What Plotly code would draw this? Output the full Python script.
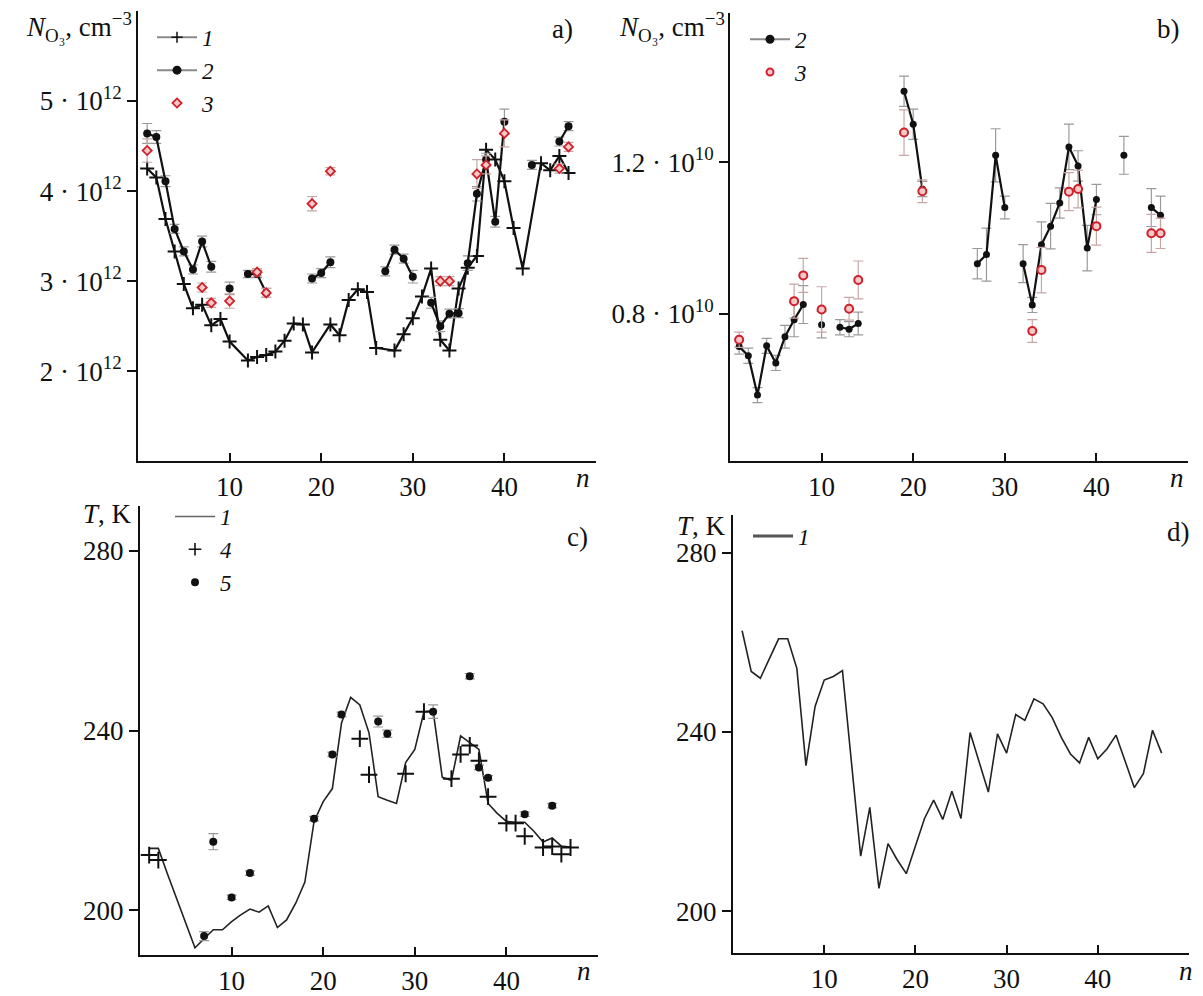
import plotly.graph_objects as go

W, H = 1203, 996
FONT = "Liberation Serif"

# ---------------- data ----------------
n_all = list(range(1, 48))

# panel a: N_O3 in units of 1e12 cm^-3
a1_n = [1, 2, 3, 4, 5, 6, 7, 8, 9, 10, 12, 13, 14, 15, 16, 17, 18, 19, 21, 22, 23, 24, 25, 26,
        28, 29, 30, 31, 32, 33, 34, 35, 36, 37, 38, 39, 40, 41, 42, 44, 45, 46, 47]
a1_v = [4.25, 4.15, 3.69, 3.33, 2.97, 2.70, 2.74, 2.51, 2.58, 2.33,
        2.12, 2.16, 2.18, 2.22, 2.34, 2.53, 2.52, 2.21,
        2.52, 2.40, 2.79, 2.91, 2.88, 2.26,
        2.23, 2.41, 2.59, 2.83, 3.14, 2.35, 2.23, 2.92, 3.15, 3.28, 4.46, 4.35, 4.11, 3.59, 3.14,
        4.31, 4.23, 4.39, 4.20]

a2_v = [4.64, 4.60, 4.11, 3.58, 3.33, 3.13, 3.44, 3.16, None, 2.92,
        None, 3.08, 3.08, 2.87, None, None, None, None, 3.03, 3.09,
        3.21, None, None, None, None, None, 3.11, 3.35, 3.25, 3.05,
        None, 2.76, 2.50, 2.64, 2.645, 3.20, 3.97, 4.35, 3.66, 4.77,
        None, None, 4.29, None, None, 4.55, 4.72]
a2_e = [0.11, 0.07, 0.06, 0.05, 0.05, 0.05, 0.06, 0.06, 0, 0.07,
        0, 0.04, 0.04, 0.05, 0, 0, 0, 0, 0.05, 0.05,
        0.06, 0, 0, 0, 0, 0, 0.05, 0.05, 0.05, 0.07,
        0, 0.06, 0.06, 0.05, 0.05, 0.08, 0.08, 0.07, 0.06, 0.14,
        0, 0, 0.05, 0, 0, 0.05, 0.05]

a3_n = [1, 7, 8, 10, 13, 14, 19, 21, 33, 34, 37, 38, 40, 46, 47]
a3_v = [4.45, 2.93, 2.76, 2.78, 3.10, 2.87, 3.86, 4.22, 3.00, 3.00, 4.19, 4.29, 4.64, 4.25, 4.49]
a3_e = [0.13, 0.05, 0.05, 0.08, 0.04, 0.05, 0.08, 0.04, 0.05, 0.05, 0.16, 0.10, 0.15, 0.05, 0.05]

# panel b: N_O3 in units of 1e10 cm^-3
b2_v = [0.713, 0.689, 0.585, 0.715, 0.670, 0.739, 0.784, 0.824, None, 0.771,
        None, 0.764, 0.759, 0.774, None, None, None, None, 1.387, 1.300,
        1.129, None, None, None, None, None, 0.932, 0.956, 1.218, 1.080,
        None, 0.932, 0.823, 0.982, 1.031, 1.092, 1.240, 1.190, 0.973, 1.101,
        None, None, 1.218, None, None, 1.080, 1.060]
b2_e = [0.02, 0.02, 0.02, 0.02, 0.02, 0.03, 0.045, 0.05, 0, 0.035,
        0, 0.02, 0.02, 0.03, 0, 0, 0, 0, 0.04, 0.04,
        0.02, 0, 0, 0, 0, 0, 0.04, 0.07, 0.07, 0.03,
        0, 0.05, 0.02, 0.06, 0.06, 0.04, 0.06, 0.04, 0.06, 0.04,
        0, 0, 0.05, 0, 0, 0.05, 0.05]

b3_n = [1, 7, 8, 10, 13, 14, 19, 21, 33, 34, 37, 38, 40, 46, 47]
b3_v = [0.731, 0.833, 0.901, 0.811, 0.813, 0.889, 1.278, 1.123, 0.754, 0.915, 1.122, 1.129, 1.031, 1.012, 1.012]
b3_e = [0.02, 0.045, 0.045, 0.06, 0.03, 0.05, 0.06, 0.03, 0.03, 0.06, 0.05, 0.05, 0.05, 0.05, 0.04]

# panel c: temperature, K
c1_v = [213.8, 213.8, 208.1, 202.7, 197.2, 191.7, 193.7, 195.7, 195.7, 197.5,
        199.0, 200.3, 199.6, 201.0, 196.2, 197.9, 201.6, 206.3, 219.8, 224.2,
        227.1, 241.7, 247.4, 245.7, 239.5, 225.3, 224.5, 223.8, 232.9, 235.8,
        244.2, 244.4, 229.6, 228.9, 238.8, 237.3, 235.8, 223.8, 221.6, 219.8,
        219.6, 219.6, 217.6, 215.2, 216.1, 214.3, 214.1]
c4_n = [1, 2, 24, 25, 29, 31, 34, 35, 36, 37, 38, 40, 41, 42, 44, 45, 46, 47]
c4_v = [212.3, 211.2, 238.2, 230.2, 230.4, 244.2, 229.3, 234.7, 236.7, 233.3, 225.3,
        219.4, 219.4, 216.5, 214.0, 214.2, 212.5, 214.0]
c5_n = [7, 8, 10, 12, 19, 21, 22, 26, 27, 32, 36, 37, 38, 42, 45]
c5_v = [194.3, 215.3, 202.9, 208.3, 220.4, 234.7, 243.6, 242.0, 239.3, 244.2, 252.1, 231.8, 229.5, 221.4, 223.3]
c5_e = [1.0, 1.8, 0.5, 0.5, 0.5, 0.5, 0.5, 1.2, 0.8, 1.5, 0.6, 0.5, 0.5, 0.5, 0.5]

# panel d: temperature, K
d1_v = [262.6, 253.5, 252.0, 256.4, 260.8, 260.8, 254.2, 232.5, 245.7, 251.6,
        252.4, 253.7, 232.9, 212.3, 223.2, 205.1, 215.1, 211.5, 208.4, 214.6,
        220.7, 224.8, 220.5, 226.8, 220.7, 239.9, 233.2, 226.6, 239.6, 235.3,
        243.9, 242.6, 247.4, 246.3, 243.2, 238.8, 235.1, 233.1, 238.8, 234.0,
        236.2, 239.3, 233.5, 227.6, 230.7, 240.4, 235.3]

x_ticks = [10, 20, 30, 40]
a_ticks = [2, 3, 4, 5]
a_text = ["2 · 10<sup>12</sup>", "3 · 10<sup>12</sup>", "4 · 10<sup>12</sup>", "5 · 10<sup>12</sup>"]
b_ticks = [0.8, 1.2]
b_text = ["0.8 · 10<sup>10</sup>", "1.2 · 10<sup>10</sup>"]
t_ticks = [200, 240, 280]

# ---------------- layout helpers ----------------
def fx(px):
    return px / W

def fy(py):
    return 1 - py / H

BLACK = "#111111"
ERR = "#9a9a9a"
RED = "#d0202a"
PINK = "#f6c9c9"

fig = go.Figure()

# ---- panel a ----
fig.add_trace(go.Scatter(x=a1_n, y=a1_v, mode="lines+markers", xaxis="x", yaxis="y",
                         line=dict(color=BLACK, width=2.2),
                         marker=dict(symbol="cross-thin", size=10, line=dict(color=BLACK, width=2)),
                         showlegend=False))
fig.add_trace(go.Scatter(x=n_all, y=a2_v, mode="lines+markers", xaxis="x", yaxis="y",
                         line=dict(color=BLACK, width=2.2), connectgaps=False,
                         marker=dict(symbol="circle", size=8, color=BLACK),
                         error_y=dict(type="data", array=a2_e, color=ERR, thickness=1.2, width=5),
                         showlegend=False))
fig.add_trace(go.Scatter(x=a3_n, y=a3_v, mode="markers", xaxis="x", yaxis="y",
                         marker=dict(symbol="diamond", size=7, color=PINK, line=dict(color=RED, width=1.8)),
                         error_y=dict(type="data", array=a3_e, color="#c8a6a6", thickness=1.2, width=5),
                         showlegend=False))
# legend entries a
fig.add_trace(go.Scatter(x=[None], y=[None], mode="lines+markers", xaxis="x", yaxis="y", name="<i>1</i>",
                         line=dict(color="#8a8a8a", width=2),
                         marker=dict(symbol="cross-thin", size=8, line=dict(color=BLACK, width=1.5)),
                         legend="legend"))
fig.add_trace(go.Scatter(x=[None], y=[None], mode="lines+markers", xaxis="x", yaxis="y", name="<i>2</i>",
                         line=dict(color="#8a8a8a", width=2),
                         marker=dict(symbol="circle", size=9, color=BLACK), legend="legend"))
fig.add_trace(go.Scatter(x=[None], y=[None], mode="markers", xaxis="x", yaxis="y", name="<i>3</i>",
                         marker=dict(symbol="diamond", size=7, color=PINK, line=dict(color=RED, width=1.8)),
                         legend="legend"))

# ---- panel b ----
fig.add_trace(go.Scatter(x=n_all, y=b2_v, mode="lines+markers", xaxis="x2", yaxis="y2",
                         line=dict(color=BLACK, width=2.2), connectgaps=False,
                         marker=dict(symbol="circle", size=7, color=BLACK),
                         error_y=dict(type="data", array=b2_e, color=ERR, thickness=1.2, width=5),
                         showlegend=False))
fig.add_trace(go.Scatter(x=b3_n, y=b3_v, mode="markers", xaxis="x2", yaxis="y2",
                         marker=dict(symbol="circle", size=8, color=PINK, line=dict(color=RED, width=2)),
                         error_y=dict(type="data", array=b3_e, color="#c8a6a6", thickness=1.2, width=5),
                         showlegend=False))
fig.add_trace(go.Scatter(x=[None], y=[None], mode="lines+markers", xaxis="x2", yaxis="y2", name="<i>2</i>",
                         line=dict(color="#8a8a8a", width=2),
                         marker=dict(symbol="circle", size=9, color=BLACK), legend="legend2"))
fig.add_trace(go.Scatter(x=[None], y=[None], mode="markers", xaxis="x2", yaxis="y2", name="<i>3</i>",
                         marker=dict(symbol="circle", size=7, color=PINK, line=dict(color=RED, width=2)),
                         legend="legend2"))

# ---- panel c ----
fig.add_trace(go.Scatter(x=n_all, y=c1_v, mode="lines", xaxis="x3", yaxis="y3",
                         line=dict(color="#222222", width=1.6), showlegend=False))
fig.add_trace(go.Scatter(x=c4_n, y=c4_v, mode="markers", xaxis="x3", yaxis="y3",
                         marker=dict(symbol="cross-thin", size=12, line=dict(color=BLACK, width=2)),
                         showlegend=False))
fig.add_trace(go.Scatter(x=c5_n, y=c5_v, mode="markers", xaxis="x3", yaxis="y3",
                         marker=dict(symbol="circle", size=8, color=BLACK),
                         error_y=dict(type="data", array=c5_e, color=ERR, thickness=1.2, width=5),
                         showlegend=False))
fig.add_trace(go.Scatter(x=[None], y=[None], mode="lines", xaxis="x3", yaxis="y3", name="<i>1</i>",
                         line=dict(color="#666666", width=1.5), legend="legend3"))
fig.add_trace(go.Scatter(x=[None], y=[None], mode="markers", xaxis="x3", yaxis="y3", name="<i>4</i>",
                         marker=dict(symbol="cross-thin", size=9, line=dict(color=BLACK, width=1.6)),
                         legend="legend3"))
fig.add_trace(go.Scatter(x=[None], y=[None], mode="markers", xaxis="x3", yaxis="y3", name="<i>5</i>",
                         marker=dict(symbol="circle", size=8, color=BLACK), legend="legend3"))

# ---- panel d ----
fig.add_trace(go.Scatter(x=n_all, y=d1_v, mode="lines", xaxis="x4", yaxis="y4",
                         line=dict(color="#222222", width=1.6), showlegend=False))
fig.add_trace(go.Scatter(x=[None], y=[None], mode="lines", xaxis="x4", yaxis="y4", name="<i>1</i>",
                         line=dict(color="#555555", width=3), legend="legend4"))

# ---------------- axes ----------------
tick_font = dict(family=FONT, size=27, color=BLACK)

def xax(x0, x1, anchor):
    return dict(domain=[fx(x0), fx(x1)], range=[0, 50], anchor=anchor,
                tickvals=x_ticks, ticks="inside", ticklen=8, tickwidth=1.5, tickcolor=BLACK,
                showline=True, linewidth=2, linecolor=BLACK, showgrid=False, zeroline=False,
                tickfont=tick_font, fixedrange=True)

def yax(y_top, y_bot, rng, vals, text, anchor):
    return dict(domain=[fy(y_bot), fy(y_top)], range=rng, anchor=anchor,
                tickvals=vals, ticktext=text, ticks="outside", ticklen=9, tickwidth=1.5, tickcolor=BLACK,
                showline=True, linewidth=2, linecolor=BLACK, showgrid=False, zeroline=False,
                tickfont=tick_font, fixedrange=True)

t_text = [str(t) for t in t_ticks]

def legend_box(xpx, ypx):
    return dict(x=fx(xpx), y=fy(ypx), xanchor="left", yanchor="top", bgcolor="rgba(0,0,0,0)",
                font=dict(family=FONT, size=23, color=BLACK), tracegroupgap=0, itemwidth=40)

fig.update_layout(
    width=W, height=H, margin=dict(l=0, r=0, t=0, b=0),
    paper_bgcolor="white", plot_bgcolor="white",
    font=dict(family=FONT, color=BLACK),
    xaxis=xax(138, 596, "y"),
    yaxis=yax(11, 468, [1, 6], a_ticks, a_text, "x"),
    xaxis2=xax(730, 1188, "y2"),
    yaxis2=yax(13, 468, [0.41, 1.594], b_ticks, b_text, "x2"),
    xaxis3=xax(140, 598, "y3"),
    yaxis3=yax(513, 969, [190, 290], t_ticks, t_text, "x3"),
    xaxis4=xax(733, 1189, "y4"),
    yaxis4=yax(522, 967, [190.6, 288.5], t_ticks, t_text, "x4"),
    legend=legend_box(152, 16),
    legend2=legend_box(745, 18),
    legend3=legend_box(170, 502),
    legend4=legend_box(748, 522),
    showlegend=True,
)

# ---------------- annotations ----------------
ann_font = dict(family=FONT, size=27, color=BLACK)
anns = [
    (134, 27, "<i>N</i><sub>O₃</sub>, cm<sup>−3</sup>", "right"),
    (727, 27, "<i>N</i><sub>O₃</sub>, cm<sup>−3</sup>", "right"),
    (134, 521, "<i>T</i>, K", "right"),
    (728, 533, "<i>T</i>, K", "right"),
    (575, 29, "a)", "right"),
    (1182, 29, "b)", "right"),
    (590, 545, "c)", "right"),
    (1192, 540, "d)", "right"),
    (583, 485, "<i>n</i>", "center"),
    (1177, 485, "<i>n</i>", "center"),
    (584, 985, "<i>n</i>", "center"),
    (1186, 985, "<i>n</i>", "center"),
]
for xp, yp, txt, al in anns:
    fig.add_annotation(x=fx(xp), y=fy(yp), xref="paper", yref="paper", text=txt, showarrow=False,
                       xanchor=al, yanchor="middle", font=ann_font)

fig.write_html("out.html")
